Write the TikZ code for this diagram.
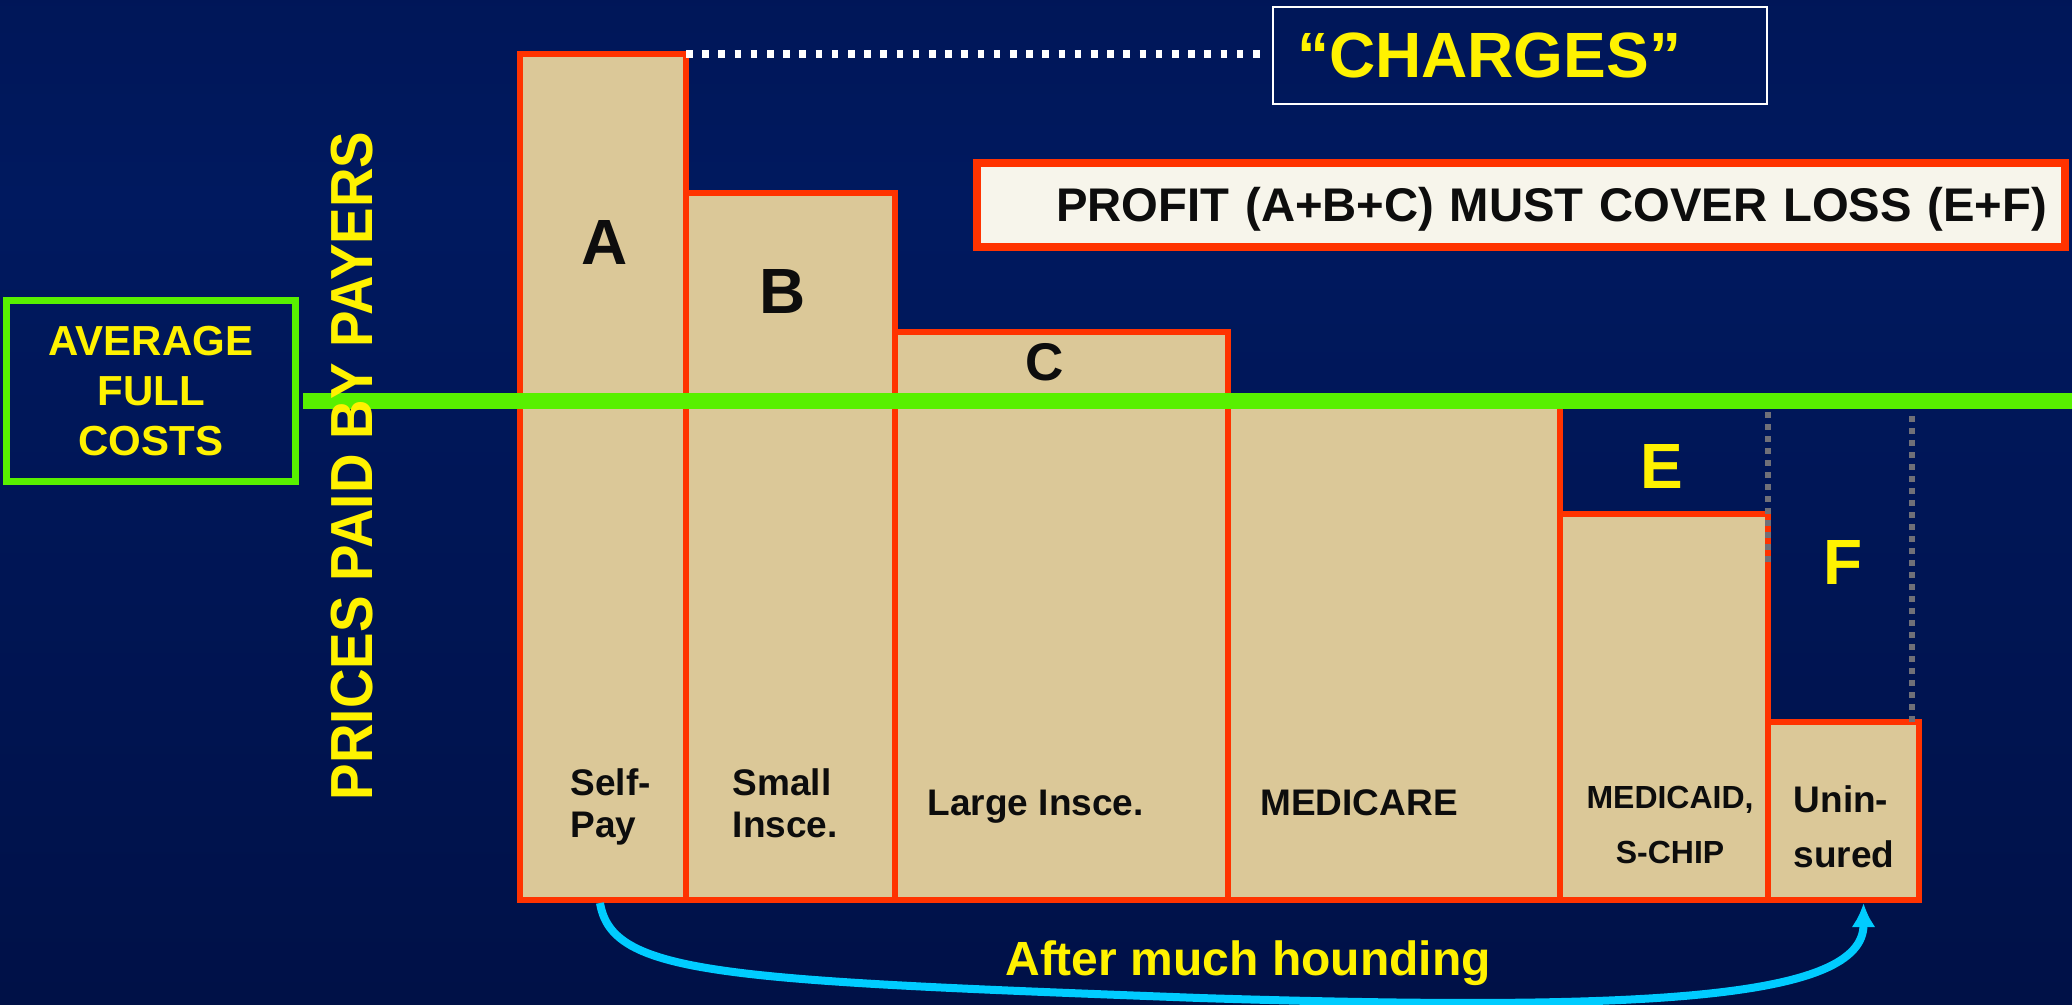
\documentclass[tikz,border=0pt]{standalone}
\usepackage{fontspec}
\setmainfont{Liberation Sans}
\usetikzlibrary{arrows.meta}

\definecolor{navytop}{RGB}{1,16,72}
\definecolor{navymid}{RGB}{0,25,95}
\definecolor{navylow}{RGB}{0,18,75}
\definecolor{navybot}{RGB}{0,10,48}
\definecolor{bartan}{RGB}{219,200,152}
\definecolor{barred}{RGB}{255,51,0}
\definecolor{costgreen}{RGB}{88,240,0}
\definecolor{notecream}{RGB}{247,245,235}
\definecolor{houndcyan}{RGB}{0,204,255}
\definecolor{gapgray}{RGB}{112,112,120}

\pgfdeclareverticalshading{slidebg}{100bp}{%
  color(0bp)=(navybot); color(30bp)=(navylow); color(65bp)=(navymid); color(100bp)=(navytop)}

\begin{document}
\begin{tikzpicture}[
        x = 0.1mm, y = -0.1mm, % one unit = one pixel, y goes down
        inner sep = 0pt
    ]
    \tikzstyle{bar}=[
        draw = barred,
        fill = bartan,
        line width = 0.6mm,
        outer sep = 0pt,
        anchor = north west
    ]

    \tikzstyle{tag}=[
        font = \fontsize{18.2}{18.2}\selectfont\bfseries,
        text = black!95,
        anchor = base
    ]

    \tikzstyle{payer}=[
        font = \fontsize{10.53}{11.95}\selectfont\bfseries,
        text = black!95,
        align = left,
        anchor = base west
    ]

    \tikzstyle{gapline}=[
        draw = gapgray,
        line width = 0.6mm,
        dash pattern = on 0.6mm off 0.6mm
    ]

    \tikzstyle{hound}=[
        draw = houndcyan,
        line width = 0.8mm,
        -{Latex[length=2.4mm, width=2.4mm]}
    ]

    \useasboundingbox (0,0) rectangle (2072,1004);
    \shade[shading=slidebg] (0,0) rectangle (2072,1004);

    % payer bars
    \node[bar, minimum width=16.6mm, minimum height=84.6mm] (selfpay)   at (520,54)   {};
    \node[bar, minimum width=20.9mm, minimum height=70.7mm] (smallins)  at (686,193)  {};
    \node[bar, minimum width=33.3mm, minimum height=56.8mm] (largeins)  at (895,332)  {};
    \node[bar, minimum width=33.2mm, minimum height=49.7mm] (medicare)  at (1228,403) {};
    \node[bar, minimum width=20.8mm, minimum height=38.6mm] (medicaid)  at (1560,514) {};
    \node[bar, minimum width=15.1mm, minimum height=17.8mm] (uninsured) at (1768,722) {};

    \coordinate (gapatop) at (1768,412);
    \coordinate (gapabot) at (1768,562);
    \coordinate (gapbtop) at (1912,416);
    \draw[gapline] (gapatop) -- (gapabot);
    \draw[gapline] (gapbtop) -- (gapbtop |- uninsured.north);

    \node[draw = costgreen, line width = 0.7mm, minimum width = 28.9mm, minimum height = 18.1mm,
          align = center, text = yellow, font = \fontsize{11.95}{14.23}\selectfont\bfseries]
          (avgcost) at (151,391) {AVERAGE\\FULL\\COSTS};

    \coordinate (costend) at (2072,401);
    \draw[costgreen, line width = 1.6mm, shorten <= 0.4mm] (avgcost.east |- costend) -- (costend);

    \node[rotate = 90, text = yellow, font = \fontsize{15.58}{15.58}\selectfont\bfseries]
          (axislabel) at (352,466) {\scalebox{1}[1.085]{PRICES PAID BY PAYERS}};

    \node[draw = white, line width = 0.2mm, minimum width = 49.4mm, minimum height = 9.7mm,
          text width = 44.6mm, align = left, text = yellow,
          font = \fontsize{18.21}{18.21}\selectfont\bfseries]
          (charges) at (1520,55.5) {“CHARGES”};

    \draw[white, line width = 0.73mm, dash pattern = on 0.66mm off 0.96mm, shorten >= 0.8mm]
          (selfpay.north east) -- (selfpay.north east -| charges.west);

    \node[draw = barred, fill = notecream, line width = 0.8mm, minimum width = 108.8mm,
          minimum height = 8.4mm, text width = 105.2mm, align = right, text = black!95,
          text height = 3.4mm, text depth = 0mm,
          font = \fontsize{13.44}{13.44}\selectfont\bfseries]
          (profit) at (1521,205) {PROFIT (A+B+C) MUST COVER LOSS (E+F)};

    \node[tag] (taga) at (605,265) {A};
    \node[tag] (tagb) at (783,313) {B};
    \node[tag, font = \fontsize{15.1}{15.1}\selectfont\bfseries] (tagc) at (1045,380) {C};
    \node[tag, text = yellow] (tage) at (1662,488) {E};
    \node[tag, text = yellow] (tagf) at (1843,584) {F};

    % base of a two-line label is its last line
    \node[payer] (selfpaytxt)  at (570,837)  {Self-\\Pay};
    \node[payer] (smalltxt)    at (732,837)  {Small\\Insce.};
    \node[payer] (largetxt)    at (927,815)  {Large Insce.};
    \node[payer, anchor = base] (medicaretxt) at (1359,815) {MEDICARE};
    \node[payer, align = center, anchor = base, font = \fontsize{9.1}{15.65}\selectfont\bfseries]
          (medicaidtxt) at (1670,863) {MEDICAID,\\S-CHIP};
    \node[payer, font = \fontsize{10.53}{15.65}\selectfont\bfseries]
          (uninsuredtxt) at (1793,867) {Unin-\\sured};

    \coordinate (houndlow) at (1200,998);
    \draw[hound] ([xshift = -0.3mm, yshift = -0.3mm]selfpay.south)
          .. controls +(12,72) and +(-480,-18) .. (houndlow)
          .. controls +(450,14) and +(0,96) .. ([xshift = 2mm, yshift = -0.3mm]uninsured.south);

    \node[font = \fontsize{13.66}{13.66}\selectfont\bfseries, text = yellow, anchor = base]
          (houndtxt) at (1248,975) {After much hounding};

\end{tikzpicture}
\end{document}
